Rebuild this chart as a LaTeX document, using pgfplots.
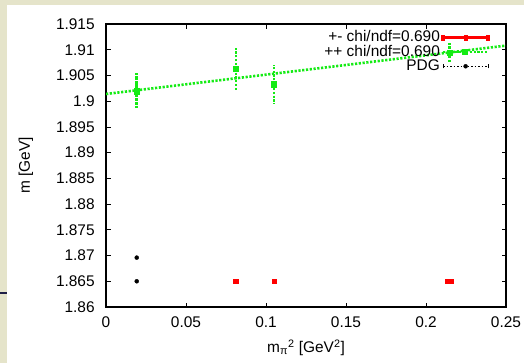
\documentclass[border=0pt]{standalone}
\usepackage{fontspec}
\setmainfont{Liberation Sans}
\usepackage{pgfplots}
\pgfplotsset{compat=1.18}
\definecolor{beige}{RGB}{229,228,202}
\definecolor{gpgreen}{RGB}{20,235,20}
\definecolor{gpred}{RGB}{255,0,0}
\definecolor{navy}{RGB}{30,30,70}
\begin{document}
\fontsize{15.5}{18}\selectfont
\begin{tikzpicture}[x=1bp,y=1bp]
\fill[beige] (0,0) rectangle (524,363);
\fill[white] (7,0) rectangle (524,358);
\draw[navy, line width=1.5bp] (0,70) -- (7,70);
\begin{axis}[
  at={(106bp,56bp)}, anchor=south west,
  scale only axis, width=400bp, height=283bp,
  xmin=0, xmax=0.25, ymin=1.86, ymax=1.915,
  xtick={0,0.05,0.1,0.15,0.2,0.25},
  ytick={1.86,1.865,1.87,1.875,1.88,1.885,1.89,1.895,1.9,1.905,1.91,1.915},
  scaled x ticks=false, scaled y ticks=false,
  /pgf/number format/assume math mode=true,
  /pgf/number format/precision=3,
  /pgf/number format/fixed,
  tick label style={font=\fontsize{15.5}{18}\selectfont},
  label style={font=\fontsize{15.5}{18}\selectfont},
  yticklabel style={xshift=-6bp},
  xticklabel style={yshift=-4bp},
  tick align=inside, major tick length=4.5bp,
  every tick/.style={black, line width=0.8bp},
  axis line style={line width=1.1bp},
  xlabel={m\textsubscript{π}\textsuperscript{2} [GeV\textsuperscript{2}]},
  xlabel style={at={(axis description cs:0.5,-0.16)}, anchor=base},
  ylabel={m [GeV]},
  ylabel style={at={(axis description cs:-0.2,0.5)}, anchor=center},
  legend plot pos=right,
  legend cell align=right,
  legend style={at={(1,1)}, anchor=north east, xshift=-16bp, yshift=-5bp,
    draw=none, fill=none, inner sep=0pt, row sep=-2bp,
    font=\fontsize{15.5}{18}\selectfont,
    nodes={inner sep=1.5bp}},
]
% +- series (red)
\addplot[only marks, mark=square*, mark size=2.3bp, color=gpred,
  legend image code/.code={
    \draw[gpred, line width=2.5bp] (0bp,0bp) -- (45bp,0bp);
    \fill[gpred] (-1.5bp,-2.5bp) rectangle (1.5bp,2.5bp);
    \fill[gpred] (21bp,-2.5bp) rectangle (24bp,2.5bp);
    \fill[gpred] (43.5bp,-2.5bp) rectangle (46.5bp,2.5bp);
  }]
  coordinates {(0.0812,1.865) (0.105,1.865) (0.2137,1.865) (0.2155,1.865)};
\addlegendentry{+- chi/ndf=0.690}
% ++ series (green)
\addplot[only marks, mark=square*, mark size=2.6bp, color=gpgreen,
  error bars/.cd, y dir=both, y explicit, error mark=none,
  error bar style={gpgreen, line width=2.6bp, dash pattern=on 2.2bp off 1.6bp},
  /pgfplots/legend image code/.code={
    \draw[gpgreen, line width=2.6bp, dash pattern=on 2.2bp off 1.6bp] (0bp,0bp) -- (45bp,0bp);
    \fill[gpgreen] (19.5bp,-2.6bp) rectangle (24.5bp,2.6bp);
  }]
  coordinates {
    (0.0192,1.9021) +- (0,0.0034)
    (0.0192,1.9019) +- (0,0.0030)
    (0.0812,1.9063) +- (0,0.0041)
    (0.105,1.9033) +- (0,0.0037)
    (0.2146,1.9095) +- (0,0.0020)
  };
\addlegendentry{++ chi/ndf=0.690}
% PDG
\addplot[only marks, mark=*, mark size=2bp, color=black,
  legend image code/.code={
    \draw[black, line width=0.6bp, dash pattern=on 1.5bp off 2bp] (0bp,0bp) -- (45bp,0bp);
    \draw[black, line width=0.6bp] (0bp,-2bp) -- (0bp,2bp);
    \draw[black, line width=0.6bp] (45bp,-2bp) -- (45bp,2bp);
    \fill[black] (22.5bp,0bp) circle (2bp);
  }]
  coordinates {(0.0192,1.8696) (0.0192,1.865)};
\addlegendentry{PDG}
% fit line
\addplot[forget plot, gpgreen, line width=2.6bp, dash pattern=on 2.2bp off 1.6bp]
  coordinates {(0,1.9014) (0.25,1.9108)};
\end{axis}
\pgfresetboundingbox
\useasboundingbox (0,0) rectangle (524,363);
\end{tikzpicture}
\end{document}
